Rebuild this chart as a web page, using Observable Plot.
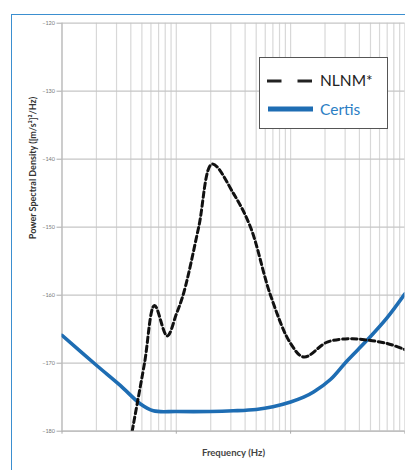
<!DOCTYPE html>
<html><head><meta charset="utf-8">
<script src="https://cdn.jsdelivr.net/npm/d3@7"></script>
<script src="https://cdn.jsdelivr.net/npm/@observablehq/plot@0.6"></script>
<style>
html,body{margin:0;padding:0;background:#fff;width:405px;height:470px;overflow:hidden;}
#wrap{position:relative;width:405px;height:470px;}
#frame{position:absolute;left:11px;top:13.5px;width:430px;height:480px;border-top:1.6px solid #3b8fd0;border-left:1.6px solid #3b8fd0;}
#chart{position:absolute;left:0;top:0;}
#legend{position:absolute;left:259px;top:57px;width:127px;height:70px;border:1px solid #555;background:#fff;}
#legend svg{display:block;}
</style>
</head><body>
<div id="wrap">
<div id="frame"></div>
<div id="chart"></div>
<div id="legend"><svg width="127" height="70">
<line x1="7" y1="23" x2="53" y2="23" stroke="#222" stroke-width="3" stroke-dasharray="14.5 16"/>
<line x1="8" y1="51" x2="53" y2="51" stroke="#1e6db3" stroke-width="5"/>
<text x="60" y="28" font-family="Lato" font-size="15.5" fill="#222">NLNM*</text>
<text x="60" y="56.5" font-family="Lato" font-size="15.5" fill="#2b7ec4">Certis</text>
</svg></div>
</div>
<script>
// NLNM (dashed) — frequency (Hz) and PSD (dB)
const nlnmFreq = [0.0411, 0.0527, 0.0645, 0.0832, 0.1, 0.1164, 0.157, 0.206, 0.318, 0.446, 0.667, 1.0, 1.31, 2.09, 3.34, 4.68, 7.0, 10];
const nlnmPSD  = [-180, -170, -161.5, -166.0, -162.8, -159.6, -150, -140.7, -145.1, -150, -160, -167.1, -169.1, -166.9, -166.4, -166.6, -167.1, -168.0];
// Certis (blue)
const certisFreq = [0.01, 0.02, 0.0325, 0.0486, 0.063, 0.1, 0.2, 0.316, 0.5, 0.7, 1.0, 1.3, 1.6, 2.23, 3.1, 4.68, 7.0, 10];
const certisPSD  = [-165.9, -170.3, -173.3, -176.0, -177.0, -177.1, -177.1, -177.0, -176.8, -176.4, -175.7, -175.0, -174.2, -172.4, -169.7, -166.6, -163.3, -159.8];
// Axes
const yTicks = [-120, -130, -140, -150, -160, -170, -180];
const xTicks = [0.01, 0.1, 1, 10];
const xTickLabels = ["0.01", "0.1", "1", "10"];
const xLabel = "Frequency (Hz)";
const yLabel = "Power Spectral Density ([m/s²]²/Hz)";

const nlnm = nlnmFreq.map((f, i) => ({f, v: nlnmPSD[i]}));
const certis = certisFreq.map((f, i) => ({f, v: certisPSD[i]}));
const gridX = [];
for (const d of [0.01, 0.1, 1]) for (let k = 1; k <= 9; k++) gridX.push(d * k);
gridX.push(10);

const chart = Plot.plot({
  width: 405, height: 470,
  marginTop: 22.7, marginBottom: 39.3, marginLeft: 61.5, marginRight: 0.6,
  x: {type: "log", domain: [0.01, 10]},
  y: {domain: [-180, -120]},
  style: {fontFamily: "Lato", background: "transparent"},
  marks: [
    Plot.ruleX(gridX, {stroke: "#d8d8d8", strokeWidth: 1.2}),
    Plot.ruleY(yTicks, {stroke: "#c6c6c6", strokeWidth: 1.2}),
    Plot.ruleX([0.01], {stroke: "#bbbbbb", strokeWidth: 1.2}),
    Plot.ruleY([-180], {stroke: "#bbbbbb", strokeWidth: 1.2}),
    Plot.axisY({ticks: yTicks, tickSize: 5, tickPadding: 2, fontSize: 5.5, stroke: "#aaa", fill: "#777", label: null}),
    Plot.axisX({ticks: xTicks, tickFormat: (d, i) => xTickLabels[i], tickSize: 3, tickPadding: 5, fontSize: 5.5, stroke: "#aaa", fill: "#777", label: null}),
    Plot.line(certis, {x: "f", y: "v", stroke: "#1e6db3", strokeWidth: 3.6, curve: "catmull-rom", clip: "frame"}),
    Plot.line(nlnm, {x: "f", y: "v", stroke: "#111", strokeWidth: 3, strokeDasharray: "5.5,3.5", curve: "catmull-rom", clip: "frame"}),
    Plot.text([xLabel], {frameAnchor: "bottom", lineAnchor: "middle", dy: 21.5, fontWeight: "bold", fontSize: 9.5, fill: "#444"}),
    Plot.text([yLabel], {frameAnchor: "left", rotate: -90, lineAnchor: "middle", dx: -28.5, dy: 12, fontWeight: "bold", fontSize: 9, fill: "#333"})
  ]
});
document.getElementById("chart").appendChild(chart);
</script>
</body></html>
